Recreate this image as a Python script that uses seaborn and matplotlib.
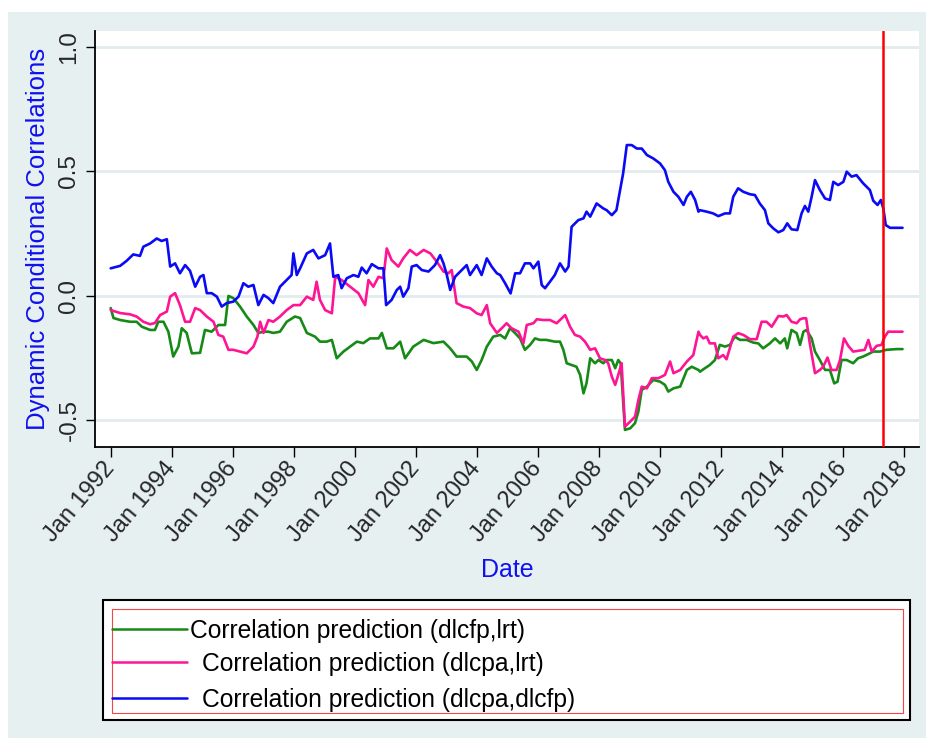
import numpy as np
import pandas as pd
import matplotlib
matplotlib.use("Agg")
import matplotlib.pyplot as plt
from matplotlib.patches import Rectangle
from matplotlib.lines import Line2D
import seaborn as sns

# (decimal year, correlation)
green = [
    (1992.00, -0.050), (1992.09, -0.090), (1992.31, -0.098), (1992.63, -0.105), (1992.85, -0.105),
    (1993.02, -0.125), (1993.29, -0.138), (1993.45, -0.138), (1993.56, -0.105), (1993.73, -0.105),
    (1993.89, -0.145), (1994.05, -0.245), (1994.22, -0.205), (1994.33, -0.131), (1994.49, -0.150),
    (1994.66, -0.232), (1994.93, -0.230), (1995.09, -0.138), (1995.31, -0.145), (1995.53, -0.118),
    (1995.75, -0.118), (1995.86, -0.001), (1996.02, -0.010), (1996.24, -0.044), (1996.46, -0.084),
    (1996.68, -0.118), (1996.84, -0.150), (1997.01, -0.145), (1997.17, -0.145), (1997.33, -0.150),
    (1997.55, -0.145), (1997.77, -0.105), (1998.04, -0.084), (1998.21, -0.090), (1998.43, -0.150),
    (1998.70, -0.165), (1998.86, -0.185), (1999.08, -0.185), (1999.25, -0.178), (1999.41, -0.252),
    (1999.63, -0.225), (1999.85, -0.205), (2000.07, -0.185), (2000.28, -0.191), (2000.50, -0.172),
    (2000.78, -0.172), (2000.89, -0.150), (2001.05, -0.212), (2001.27, -0.212), (2001.49, -0.185),
    (2001.65, -0.252), (2001.92, -0.205), (2002.26, -0.178), (2002.58, -0.191), (2002.91, -0.185),
    (2003.13, -0.212), (2003.34, -0.245), (2003.67, -0.245), (2003.84, -0.265), (2004.00, -0.299),
    (2004.16, -0.259), (2004.33, -0.205), (2004.54, -0.165), (2004.77, -0.158), (2004.93, -0.172),
    (2005.09, -0.131), (2005.26, -0.151), (2005.42, -0.172), (2005.58, -0.218), (2005.75, -0.198),
    (2005.91, -0.172), (2006.07, -0.178), (2006.28, -0.178), (2006.56, -0.185), (2006.73, -0.185),
    (2006.84, -0.218), (2006.95, -0.272), (2007.11, -0.279), (2007.27, -0.286), (2007.39, -0.319),
    (2007.50, -0.393), (2007.60, -0.352), (2007.72, -0.252), (2007.88, -0.272), (2007.99, -0.259),
    (2008.15, -0.272), (2008.26, -0.259), (2008.43, -0.259), (2008.54, -0.292), (2008.64, -0.259),
    (2008.72, -0.272), (2008.86, -0.540), (2009.03, -0.534), (2009.19, -0.513), (2009.30, -0.466),
    (2009.41, -0.379), (2009.58, -0.366), (2009.79, -0.339), (2010.01, -0.346), (2010.17, -0.359),
    (2010.28, -0.386), (2010.45, -0.373), (2010.67, -0.366), (2010.89, -0.299), (2011.05, -0.286),
    (2011.27, -0.299), (2011.32, -0.306), (2011.48, -0.292), (2011.64, -0.279), (2011.81, -0.259),
    (2011.97, -0.198), (2012.14, -0.205), (2012.30, -0.198), (2012.46, -0.165), (2012.63, -0.178),
    (2012.85, -0.178), (2013.07, -0.189), (2013.23, -0.192), (2013.39, -0.212), (2013.61, -0.192),
    (2013.78, -0.172), (2013.95, -0.192), (2014.10, -0.172), (2014.18, -0.212), (2014.32, -0.138),
    (2014.49, -0.151), (2014.60, -0.198), (2014.71, -0.145), (2014.81, -0.138), (2014.98, -0.172),
    (2015.09, -0.225), (2015.25, -0.259), (2015.42, -0.299), (2015.58, -0.299), (2015.72, -0.353),
    (2015.83, -0.346), (2015.96, -0.259), (2016.13, -0.259), (2016.34, -0.272), (2016.50, -0.252),
    (2016.67, -0.245), (2016.84, -0.235), (2017.00, -0.225), (2017.22, -0.225), (2017.43, -0.218),
    (2017.77, -0.215), (2017.96, -0.215),
]

pink = [
    (1992.00, -0.058), (1992.31, -0.070), (1992.63, -0.075), (1992.85, -0.084), (1993.07, -0.105),
    (1993.29, -0.115), (1993.45, -0.110), (1993.62, -0.078), (1993.84, -0.064), (1993.95, -0.004),
    (1994.11, 0.010), (1994.27, -0.038), (1994.44, -0.105), (1994.60, -0.105), (1994.77, -0.050),
    (1994.93, -0.058), (1995.15, -0.084), (1995.37, -0.105), (1995.53, -0.158), (1995.69, -0.165),
    (1995.86, -0.218), (1996.02, -0.218), (1996.24, -0.225), (1996.46, -0.232), (1996.68, -0.205),
    (1996.81, -0.165), (1996.90, -0.105), (1997.01, -0.150), (1997.17, -0.098), (1997.33, -0.105),
    (1997.55, -0.084), (1997.77, -0.058), (1997.99, -0.038), (1998.21, -0.038), (1998.43, -0.004),
    (1998.64, -0.017), (1998.75, 0.056), (1998.86, -0.017), (1999.03, -0.058), (1999.25, -0.071),
    (1999.36, 0.076), (1999.57, 0.063), (1999.85, 0.036), (2000.12, 0.010), (2000.34, -0.038),
    (2000.45, 0.063), (2000.61, 0.036), (2000.78, 0.076), (2000.94, 0.070), (2001.05, 0.190),
    (2001.21, 0.143), (2001.43, 0.117), (2001.59, 0.150), (2001.81, 0.184), (2002.03, 0.163),
    (2002.26, 0.184), (2002.48, 0.170), (2002.69, 0.137), (2002.91, 0.097), (2003.07, 0.090),
    (2003.18, 0.103), (2003.34, -0.030), (2003.56, -0.044), (2003.78, -0.050), (2004.00, -0.071),
    (2004.16, -0.078), (2004.33, -0.038), (2004.44, -0.111), (2004.66, -0.150), (2004.82, -0.131),
    (2004.98, -0.111), (2005.14, -0.131), (2005.37, -0.145), (2005.53, -0.192), (2005.64, -0.118),
    (2005.86, -0.111), (2005.97, -0.095), (2006.18, -0.098), (2006.40, -0.098), (2006.62, -0.111),
    (2006.90, -0.078), (2007.06, -0.125), (2007.22, -0.158), (2007.39, -0.165), (2007.55, -0.185),
    (2007.72, -0.218), (2007.88, -0.212), (2008.04, -0.252), (2008.21, -0.259), (2008.31, -0.272),
    (2008.43, -0.326), (2008.54, -0.359), (2008.64, -0.319), (2008.75, -0.272), (2008.86, -0.527),
    (2009.03, -0.507), (2009.19, -0.487), (2009.30, -0.420), (2009.41, -0.366), (2009.58, -0.373),
    (2009.74, -0.332), (2009.96, -0.332), (2010.17, -0.319), (2010.34, -0.265), (2010.45, -0.312),
    (2010.67, -0.299), (2010.89, -0.265), (2011.10, -0.239), (2011.27, -0.145), (2011.32, -0.158),
    (2011.43, -0.172), (2011.54, -0.165), (2011.64, -0.192), (2011.81, -0.192), (2011.92, -0.252),
    (2012.08, -0.239), (2012.19, -0.256), (2012.41, -0.165), (2012.57, -0.151), (2012.74, -0.158),
    (2012.96, -0.175), (2013.18, -0.175), (2013.34, -0.105), (2013.50, -0.105), (2013.67, -0.125),
    (2013.89, -0.082), (2014.05, -0.084), (2014.16, -0.078), (2014.32, -0.105), (2014.49, -0.111),
    (2014.60, -0.095), (2014.71, -0.091), (2014.80, -0.091), (2014.92, -0.192), (2015.09, -0.312),
    (2015.25, -0.299), (2015.36, -0.286), (2015.50, -0.249), (2015.63, -0.299), (2015.80, -0.299),
    (2015.91, -0.259), (2016.04, -0.172), (2016.18, -0.202), (2016.34, -0.225), (2016.56, -0.221),
    (2016.72, -0.218), (2016.84, -0.178), (2016.95, -0.225), (2017.11, -0.202), (2017.27, -0.198),
    (2017.38, -0.165), (2017.49, -0.145), (2017.77, -0.145), (2017.96, -0.145),
]

blue = [
    (1992.00, 0.110), (1992.31, 0.120), (1992.52, 0.140), (1992.74, 0.166), (1992.96, 0.160),
    (1993.07, 0.197), (1993.29, 0.210), (1993.51, 0.230), (1993.67, 0.220), (1993.84, 0.227),
    (1993.95, 0.117), (1994.11, 0.130), (1994.27, 0.090), (1994.44, 0.123), (1994.60, 0.100),
    (1994.77, 0.036), (1994.93, 0.076), (1995.04, 0.083), (1995.15, 0.010), (1995.31, 0.010),
    (1995.48, -0.004), (1995.64, -0.044), (1995.80, -0.030), (1996.02, -0.024), (1996.19, -0.004),
    (1996.35, 0.050), (1996.51, 0.036), (1996.68, 0.043), (1996.84, -0.038), (1997.01, 0.003),
    (1997.17, -0.010), (1997.33, -0.030), (1997.55, 0.036), (1997.77, 0.063), (1997.93, 0.083),
    (1997.99, 0.170), (1998.10, 0.083), (1998.21, 0.110), (1998.43, 0.170), (1998.64, 0.184),
    (1998.81, 0.150), (1999.03, 0.163), (1999.19, 0.210), (1999.30, 0.076), (1999.46, 0.083),
    (1999.57, 0.030), (1999.74, 0.070), (1999.96, 0.083), (2000.12, 0.076), (2000.23, 0.113),
    (2000.39, 0.090), (2000.56, 0.127), (2000.78, 0.110), (2000.94, 0.110), (2001.03, -0.038),
    (2001.21, -0.017), (2001.38, 0.023), (2001.49, 0.036), (2001.59, -0.004), (2001.76, 0.030),
    (2001.87, 0.117), (2002.03, 0.123), (2002.20, 0.103), (2002.42, 0.097), (2002.63, 0.123),
    (2002.80, 0.163), (2002.91, 0.130), (2003.02, 0.083), (2003.13, 0.023), (2003.29, 0.076),
    (2003.51, 0.103), (2003.67, 0.123), (2003.78, 0.083), (2004.00, 0.123), (2004.16, 0.083),
    (2004.33, 0.150), (2004.49, 0.117), (2004.66, 0.090), (2004.77, 0.083), (2004.93, 0.050),
    (2005.11, 0.009), (2005.26, 0.090), (2005.42, 0.090), (2005.58, 0.130), (2005.75, 0.130),
    (2005.86, 0.110), (2006.02, 0.137), (2006.13, 0.043), (2006.24, 0.030), (2006.40, 0.056),
    (2006.56, 0.083), (2006.73, 0.130), (2006.90, 0.097), (2007.01, 0.117), (2007.11, 0.277),
    (2007.33, 0.304), (2007.50, 0.311), (2007.60, 0.338), (2007.72, 0.318), (2007.93, 0.371),
    (2008.15, 0.351), (2008.26, 0.344), (2008.43, 0.324), (2008.58, 0.344), (2008.70, 0.425),
    (2008.80, 0.492), (2008.92, 0.606), (2009.08, 0.606), (2009.25, 0.592), (2009.41, 0.592),
    (2009.58, 0.566), (2009.79, 0.552), (2010.01, 0.532), (2010.17, 0.505), (2010.28, 0.458),
    (2010.45, 0.418), (2010.61, 0.398), (2010.78, 0.365), (2010.89, 0.398), (2011.02, 0.418),
    (2011.16, 0.385), (2011.27, 0.338), (2011.32, 0.344), (2011.54, 0.338), (2011.75, 0.331),
    (2011.92, 0.320), (2012.14, 0.331), (2012.30, 0.331), (2012.41, 0.398), (2012.57, 0.432),
    (2012.74, 0.418), (2012.96, 0.408), (2013.12, 0.405), (2013.28, 0.371), (2013.45, 0.344),
    (2013.56, 0.291), (2013.72, 0.271), (2013.89, 0.255), (2014.05, 0.264), (2014.18, 0.291),
    (2014.32, 0.267), (2014.51, 0.264), (2014.65, 0.331), (2014.76, 0.361), (2014.87, 0.338),
    (2014.98, 0.398), (2015.09, 0.465), (2015.25, 0.425), (2015.42, 0.391), (2015.58, 0.385),
    (2015.69, 0.458), (2015.85, 0.445), (2016.02, 0.458), (2016.13, 0.499), (2016.29, 0.479),
    (2016.45, 0.485), (2016.67, 0.452), (2016.89, 0.425), (2017.00, 0.382), (2017.14, 0.365),
    (2017.25, 0.385), (2017.33, 0.351), (2017.41, 0.284), (2017.55, 0.273), (2017.77, 0.273),
    (2017.96, 0.273),
]

series_labels = [
    "Correlation prediction (dlcfp,lrt)",
    "Correlation prediction (dlcpa,lrt)",
    "Correlation prediction (dlcpa,dlcfp)",
]
series_colors = ["#168A16", "#FF1493", "#0A0AF5"]
year_ticks = list(range(1992, 2019, 2))
year_labels = [f"Jan {y}" for y in year_ticks]
y_ticks = [-0.5, 0.0, 0.5, 1.0]
y_labels = ["-0.5", "0.0", "0.5", "1.0"]
cutoff_year = 2017.31

PANEL = "#E7F0F1"
GRID = "#E2ECEE"
W, H = 926, 738


def fx(px):
    return px / W


def fy(py):
    return 1 - py / H


def build_frame():
    rows = []
    for label, pts in zip(series_labels, [green, pink, blue]):
        for t, v in pts:
            rows.append({"year": t, "value": v, "series": label})
    return pd.DataFrame(rows)


def draw_legend(fig):
    # outer black frame and inner red frame, as Stata draws them
    fig.add_artist(Rectangle((fx(103), fy(720)), fx(910) - fx(103), fy(600) - fy(720),
                             transform=fig.transFigure, facecolor="white",
                             edgecolor="black", linewidth=1.5, zorder=2))
    fig.add_artist(Rectangle((fx(112), fy(713)), fx(903) - fx(112), fy(609) - fy(713),
                             transform=fig.transFigure, facecolor="none",
                             edgecolor="#F04848", linewidth=0.8, zorder=3))
    rows_y = [629, 662, 698]
    text_x = [190, 202, 202]
    for label, color, ry, tx in zip(series_labels, series_colors, rows_y, text_x):
        fig.add_artist(Line2D([fx(112), fx(187)], [fy(ry), fy(ry)],
                              transform=fig.transFigure, color=color,
                              linewidth=1.8, zorder=4))
        fig.text(fx(tx), fy(ry + 2), label, fontsize=17.7, va="center", ha="left",
                 color="black", zorder=4)


def main():
    sns.set_style("ticks")
    plt.rcParams["font.family"] = ["Liberation Sans", "DejaVu Sans"]

    df = build_frame()

    fig = plt.figure(figsize=(W / 100, H / 100), dpi=100, facecolor="white")
    fig.add_artist(Rectangle((fx(8), 0), 1 - fx(8), fy(12), transform=fig.transFigure,
                             facecolor=PANEL, edgecolor="none", zorder=-1))

    ax = fig.add_axes([fx(95), fy(447), fx(919) - fx(95), fy(31) - fy(447)])
    ax.set_facecolor("white")

    sns.lineplot(data=df, x="year", y="value", hue="series", hue_order=series_labels,
                 palette=dict(zip(series_labels, series_colors)), estimator=None,
                 sort=False, linewidth=1.9, legend=False, ax=ax)
    ax.axvline(cutoff_year, color="#FF0000", linewidth=1.8, zorder=5)

    ax.set_xlim(1991.485, 2018.5)
    ax.set_ylim(-0.609, 1.065)

    ax.set_yticks(y_ticks)
    ax.set_yticklabels(y_labels, rotation=90, va="center", fontsize=17.5)
    ax.set_xticks(year_ticks)
    ax.set_xticklabels(year_labels, rotation=50, ha="right", va="center",
                       rotation_mode="anchor", fontsize=17)
    ax.tick_params(axis="y", length=6.5, width=1.0, pad=4, color="black")
    ax.tick_params(axis="x", length=7, width=1.0, pad=6, color="black")

    ax.yaxis.grid(True, color=GRID, linewidth=2)
    ax.xaxis.grid(False)
    ax.set_axisbelow(True)

    sns.despine(ax=ax)
    for side in ["left", "bottom"]:
        ax.spines[side].set_linewidth(1.3)
        ax.spines[side].set_color("black")

    ax.set_ylabel("Dynamic Conditional Correlations", color="#1010F0", fontsize=18.5)
    ax.yaxis.set_label_coords(-0.055, 0.5)
    ax.set_xlabel("Date", color="#1010F0", fontsize=18)
    ax.xaxis.set_label_coords(0.5, -0.267)

    draw_legend(fig)

    fig.savefig("out.png", dpi=100, facecolor="white")
    plt.close(fig)


if __name__ == "__main__":
    main()
